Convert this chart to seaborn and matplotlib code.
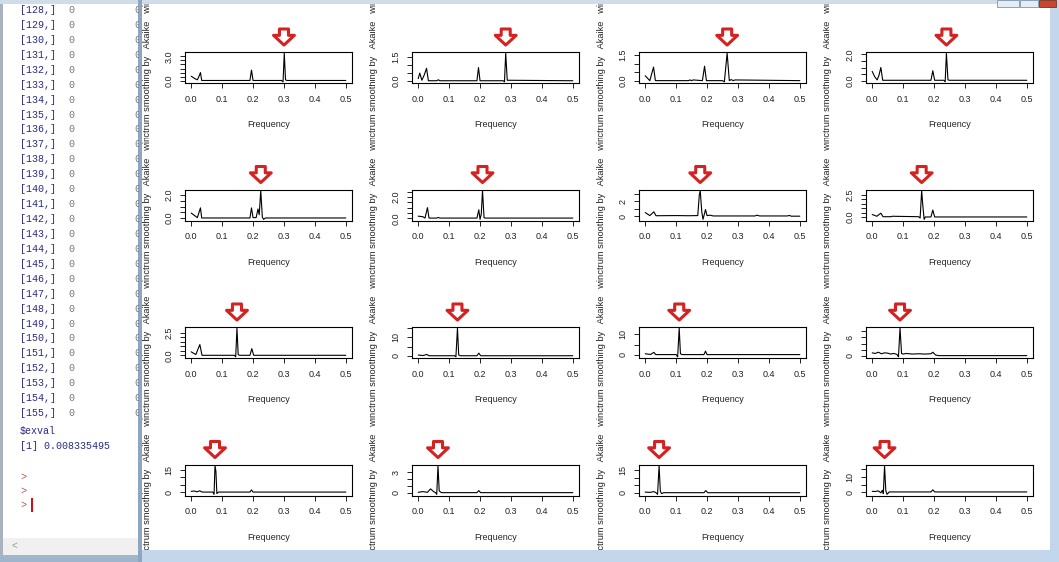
import matplotlib
matplotlib.use("Agg")
import matplotlib.pyplot as plt
import seaborn as sns
from matplotlib.patches import Rectangle
from matplotlib.transforms import Bbox, TransformedBbox

# smoothed spectra (row, column)
r1c1_freq = [0.000, 0.012, 0.020, 0.026, 0.030, 0.034, 0.190, 0.195, 0.200, 0.292, 0.297, 0.301, 0.305, 0.310, 0.500]
r1c1_spec = [0.55, 0.25, 0.10, 0.60, 1.00, 0.02, 0.02, 1.30, 0.02, 0.02, -0.15, 3.40, 0.10, 0.02, 0.02]
r1c2_freq = [0.000, 0.005, 0.012, 0.020, 0.027, 0.033, 0.060, 0.065, 0.070, 0.190, 0.195, 0.200, 0.275, 0.279, 0.283, 0.288, 0.500]
r1c2_spec = [0.15, 0.50, 0.05, 0.40, 0.80, 0.02, 0.02, 0.08, 0.02, 0.02, 0.85, 0.02, 0.02, -0.05, 1.75, 0.05, 0.02]
r1c3_freq = [0.000, 0.015, 0.027, 0.033, 0.140, 0.145, 0.150, 0.155, 0.185, 0.192, 0.198, 0.250, 0.256, 0.265, 0.272, 0.278, 0.285, 0.290, 0.500]
r1c3_spec = [0.30, 0.02, 0.80, 0.02, 0.02, 0.06, 0.02, 0.06, 0.02, 0.85, 0.02, 0.02, -0.05, 1.60, 0.02, 0.08, 0.02, 0.06, 0.02]
r1c4_freq = [0.000, 0.008, 0.016, 0.022, 0.028, 0.034, 0.190, 0.196, 0.202, 0.232, 0.236, 0.240, 0.245, 0.250, 0.500]
r1c4_spec = [0.70, 0.30, 0.05, 0.40, 1.00, 0.02, 0.02, 0.75, 0.02, 0.02, -0.10, 2.10, 0.05, 0.02, 0.02]

r2c1_freq = [0.000, 0.010, 0.020, 0.030, 0.034, 0.190, 0.195, 0.200, 0.210, 0.216, 0.220, 0.225, 0.230, 0.234, 0.240, 0.500]
r2c1_spec = [0.45, 0.25, 0.05, 0.90, 0.02, 0.02, 0.90, 0.05, 0.05, 0.80, 0.30, 2.40, 0.10, -0.10, 0.02, 0.02]
r2c2_freq = [0.000, 0.015, 0.022, 0.030, 0.035, 0.060, 0.065, 0.070, 0.190, 0.196, 0.200, 0.204, 0.208, 0.213, 0.218, 0.500]
r2c2_spec = [0.20, 0.15, 0.02, 1.00, 0.02, 0.02, 0.08, 0.02, 0.02, 0.80, -0.10, 0.40, 2.60, 0.05, 0.02, 0.02]
r2c3_freq = [0.000, 0.015, 0.028, 0.035, 0.100, 0.140, 0.170, 0.175, 0.178, 0.183, 0.187, 0.195, 0.200, 0.210, 0.220, 0.355, 0.362, 0.370, 0.460, 0.466, 0.472, 0.500]
r2c3_spec = [0.50, 0.10, 0.60, 0.08, 0.10, 0.08, 0.10, 2.80, 3.40, 0.60, -0.40, 0.90, 0.10, 0.15, 0.05, 0.05, 0.15, 0.05, 0.05, 0.12, 0.02, 0.02]
r2c4_freq = [0.000, 0.015, 0.028, 0.035, 0.060, 0.065, 0.150, 0.155, 0.160, 0.164, 0.168, 0.172, 0.190, 0.196, 0.202, 0.500]
r2c4_spec = [0.30, 0.10, 0.45, 0.05, 0.05, 0.10, 0.05, -0.10, 3.00, 1.20, -0.25, 0.02, 0.02, 0.80, 0.02, 0.02]

r3c1_freq = [0.000, 0.015, 0.028, 0.035, 0.140, 0.144, 0.148, 0.152, 0.156, 0.190, 0.196, 0.202, 0.500]
r3c1_spec = [0.40, 0.10, 1.20, 0.02, 0.02, -0.15, 3.00, 0.10, 0.02, 0.02, 0.75, 0.02, 0.02]
r3c2_freq = [0.000, 0.015, 0.028, 0.035, 0.118, 0.122, 0.127, 0.131, 0.136, 0.190, 0.196, 0.202, 0.500]
r3c2_spec = [0.50, 0.20, 0.80, 0.10, 0.10, -0.50, 15.0, 0.50, 0.10, 0.10, 1.50, 0.10, 0.10]
r3c3_freq = [0.000, 0.010, 0.018, 0.028, 0.034, 0.100, 0.105, 0.110, 0.114, 0.120, 0.190, 0.195, 0.200, 0.500]
r3c3_spec = [0.50, 0.30, 0.20, 1.20, 0.10, 0.10, -1.00, 13.0, 0.50, 0.10, 0.10, 1.80, 0.10, 0.10]
r3c4_freq = [0.000, 0.010, 0.020, 0.030, 0.040, 0.050, 0.060, 0.070, 0.080, 0.085, 0.090, 0.095, 0.100, 0.110, 0.130, 0.150, 0.170, 0.190, 0.196, 0.205, 0.215, 0.500]
r3c4_spec = [1.00, 0.80, 1.20, 0.70, 1.00, 0.90, 0.60, 0.80, 0.50, -0.30, 9.00, 0.80, 0.60, 0.80, 0.60, 0.70, 0.60, 0.70, 1.20, 0.30, 0.10, 0.10]

r4c1_freq = [0.000, 0.010, 0.018, 0.028, 0.035, 0.070, 0.074, 0.077, 0.080, 0.083, 0.088, 0.190, 0.195, 0.200, 0.500]
r4c1_spec = [0.50, 0.80, 0.20, 0.90, 0.05, 0.05, -1.50, 18.0, 14.0, -1.00, 0.05, 0.05, 1.50, 0.05, 0.05]
r4c2_freq = [0.000, 0.015, 0.030, 0.040, 0.050, 0.056, 0.060, 0.064, 0.068, 0.075, 0.190, 0.196, 0.202, 0.500]
r4c2_spec = [0.10, 0.20, 0.10, 0.60, 0.20, 0.05, -0.20, 4.00, 0.30, 0.05, 0.05, 0.35, 0.05, 0.05]
r4c3_freq = [0.000, 0.015, 0.028, 0.035, 0.040, 0.045, 0.049, 0.053, 0.060, 0.190, 0.196, 0.202, 0.500]
r4c3_spec = [0.50, 0.30, 0.80, 0.10, -1.00, 18.0, 1.00, -0.50, 0.10, 0.10, 1.50, 0.10, 0.10]
r4c4_freq = [0.000, 0.010, 0.020, 0.028, 0.033, 0.036, 0.040, 0.044, 0.048, 0.055, 0.190, 0.196, 0.202, 0.500]
r4c4_spec = [0.50, 0.40, 0.80, -0.50, 1.20, -1.00, 17.5, 1.00, -1.50, 0.10, 0.10, 1.50, 0.10, 0.10]

# frequency marked by the red arrow in each panel
peak_freq = [[0.300, 0.283, 0.265, 0.240],
             [0.225, 0.208, 0.178, 0.160],
             [0.148, 0.127, 0.110, 0.090],
             [0.077, 0.064, 0.045, 0.040]]

# y ticks and the labels R kept (others dropped for overlap)
ytick_vals = [[[0, 0.5, 1, 1.5, 2, 2.5, 3], [0, 0.5, 1, 1.5], [0, 0.5, 1, 1.5], [0, 0.5, 1, 1.5, 2]],
              [[0, 0.5, 1, 1.5, 2], [0, 0.5, 1, 1.5, 2, 2.5], [0, 1, 2, 3], [0, 0.5, 1, 1.5, 2, 2.5]],
              [[0, 0.5, 1, 1.5, 2, 2.5], [0, 5, 10, 15], [0, 5, 10], [0, 2, 4, 6, 8]],
              [[0, 5, 10, 15], [0, 1, 2, 3], [0, 5, 10, 15], [0, 5, 10, 15]]]
ytick_text = [[["0.0", "", "", "", "", "", "3.0"], ["0.0", "", "", "1.5"], ["0.0", "", "", "1.5"], ["0.0", "", "", "", "2.0"]],
              [["0.0", "", "", "", "2.0"], ["0.0", "", "", "", "2.0", ""], ["0", "", "2", ""], ["0.0", "", "", "", "", "2.5"]],
              [["0.0", "", "", "", "", "2.5"], ["0", "", "10", ""], ["0", "", "10"], ["0", "", "", "6", ""]],
              [["0", "", "", "15"], ["0", "", "", "3"], ["0", "", "", "15"], ["0", "", "10", ""]]]

xtick_vals = [0.0, 0.1, 0.2, 0.3, 0.4, 0.5]
xtick_text = ["0.0", "0.1", "0.2", "0.3", "0.4", "0.5"]
x_label = "Frequency"
y_label = "Spectrum smoothing by   Akaike   window"

console_rows = ["[%d,]" % i for i in range(128, 156)]
console_tail = ["$exval", "[1] 0.008335495"]

spectra = [[(r1c1_freq, r1c1_spec), (r1c2_freq, r1c2_spec), (r1c3_freq, r1c3_spec), (r1c4_freq, r1c4_spec)],
           [(r2c1_freq, r2c1_spec), (r2c2_freq, r2c2_spec), (r2c3_freq, r2c3_spec), (r2c4_freq, r2c4_spec)],
           [(r3c1_freq, r3c1_spec), (r3c2_freq, r3c2_spec), (r3c3_freq, r3c3_spec), (r3c4_freq, r3c4_spec)],
           [(r4c1_freq, r4c1_spec), (r4c2_freq, r4c2_spec), (r4c3_freq, r4c3_spec), (r4c4_freq, r4c4_spec)]]

sns.set_style("ticks")
plt.rcParams['font.family'] = ['Liberation Sans', 'DejaVu Sans']

W, H = 1059, 562
fig = plt.figure(figsize=(W / 100, H / 100), dpi=100)
fig.patch.set_facecolor("white")


def rect_px(x, y, w, h, **kw):
    # rectangle given in pixels from the top-left corner
    r = Rectangle((x / W, 1 - (y + h) / H), w / W, h / H, transform=fig.transFigure, **kw)
    fig.add_artist(r)
    return r


def clip_px(x0, y0, x1, y1):
    return TransformedBbox(Bbox.from_extents(x0 / W, 1 - y1 / H, x1 / W, 1 - y0 / H), fig.transFigure)


# console pane on the left
rect_px(0, 0, 3, H, color="#a9b3bf", lw=0)
rect_px(0, 0, 140, 4, color="#cfdcea", lw=0)
rect_px(3, 538, 135, 17, color="#f0f0f0", lw=0)
rect_px(0, 555, 140, 7, color="#9eb5cc", lw=0)
fig.text(12 / W, 1 - 546 / H, "<", fontsize=7, color="#9a9a9a", va="center")
navy = "#2a2a86"
mono = "Liberation Mono"
cbox = clip_px(0, 0, 139, H)
for i, lab in enumerate(console_rows):
    yy = 1 - (10 + i * 14.93) / H
    fig.text(20 / W, yy, lab, fontsize=7.2, family=mono, color=navy, va="center")
    fig.text(68 / W, yy, "0", fontsize=7.2, family=mono, color="#777777", va="center")
    t = fig.text(134 / W, yy, "0", fontsize=7.2, family=mono, color="#777777", va="center")
    t.set_clip_box(cbox)
fig.text(20 / W, 1 - 431 / H, console_tail[0], fontsize=7.2, family=mono, color=navy, va="center")
fig.text(20 / W, 1 - 446 / H, console_tail[1], fontsize=7.2, family=mono, color=navy, va="center")
for yp in [477, 491, 505]:
    fig.text(20 / W, 1 - yp / H, ">", fontsize=7.2, family=mono, color="#c05050", va="center")
rect_px(31, 498, 2, 14, color="#d01010", lw=0)

# graphics window frame
rect_px(138, 0, 4, H, color="#8fa6c0", lw=0)
rect_px(142, 0, W - 142, 4, color="#cfdcea", lw=0)
rect_px(1050, 0, 9, H, color="#c3d7ec", lw=0)
rect_px(142, 550, W - 142, 12, color="#c3d7ec", lw=0)
rect_px(997, 0, 22, 7, color="#e4ecf4", ec="#7d93ad", lw=0.6)
rect_px(1020, 0, 18, 7, color="#e4ecf4", ec="#7d93ad", lw=0.6)
rect_px(1039, 0, 17, 7, color="#c8452f", ec="#7d3020", lw=0.6)

# grid of spectrum panels
px0, py0 = 142, 0
col_w, row_h = 227, 137.5
for r in range(4):
    for c in range(4):
        x0 = px0 + c * col_w
        y0 = py0 + r * row_h
        left, top, aw, ah = x0 + 43, y0 + 52, 167, 31
        ax = fig.add_axes([left / W, 1 - (top + ah) / H, aw / W, ah / H])
        fq, sp = spectra[r][c]
        sns.lineplot(x=fq, y=sp, ax=ax, color="black", lw=0.8, sort=False)
        lo, hi = min(sp), max(sp)
        pad = (hi - lo) * 0.04
        ax.set_ylim(lo - pad, hi + pad)
        ax.set_xlim(-0.02, 0.52)
        ax.set_xticks(xtick_vals)
        ax.set_xticklabels(xtick_text, fontsize=6.5)
        ax.set_yticks(ytick_vals[r][c])
        ax.set_yticklabels(ytick_text[r][c], fontsize=6.5, rotation=90, va="center")
        ax.tick_params(direction="out", length=3.5, width=0.7, pad=5, colors="#222222")
        for s in ax.spines.values():
            s.set_visible(True)
            s.set_linewidth(0.8)
            s.set_color("black")
        ax.set_xlabel(x_label, fontsize=6.5, labelpad=12)
        ax.set_ylabel("")
        ax.annotate("", xy=(peak_freq[r][c], 1.0), xycoords=("data", "axes fraction"),
                    xytext=(0, 23), textcoords="offset pixels", annotation_clip=False,
                    arrowprops=dict(arrowstyle="simple,head_length=0.7,head_width=1.5,tail_width=0.65",
                                    mutation_scale=10, fc="white", ec="#d42222", lw=2.2,
                                    shrinkA=0, shrinkB=5))
        # y label: longer than the panel, so R clips it to the figure region
        t = fig.text((x0 + 5) / W, 1 - (top + ah / 2) / H, y_label, rotation=90,
                     fontsize=6.7, ha="center", va="center", color="#222222")
        t.set_clip_box(clip_px(x0, max(y0, 4), x0 + col_w, min(y0 + row_h, 550)))

fig.savefig("out.png", dpi=100)
